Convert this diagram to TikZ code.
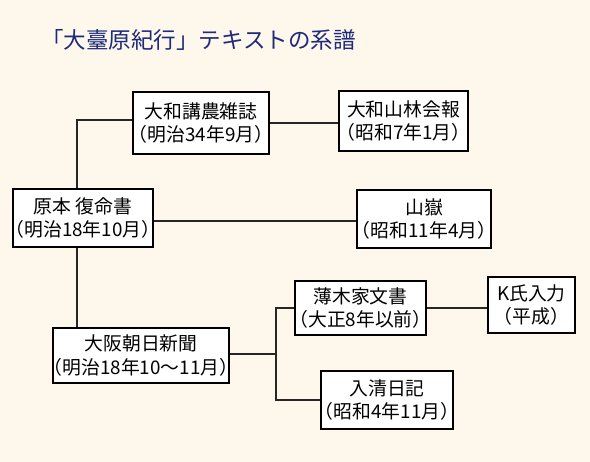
\documentclass[tikz,border=0pt]{standalone}
\usepackage{fontspec}
\setmainfont{Noto Sans CJK JP}
\usepackage{xcolor}
\usetikzlibrary{positioning}

\definecolor{paper}{RGB}{253,247,236}
\definecolor{titleblue}{RGB}{31,42,122}

\begin{document}
\begin{tikzpicture}[
    x=1pt, y=-1pt,
    box/.style={rectangle, draw=black, line width=1.6pt, fill=white, align=center, inner xsep=-14pt, inner ysep=0pt, font=\fontsize{18.8}{23.5}\selectfont},
    edge/.style={line width=1.4pt, draw=black!85}
]
    \fill[paper] (0,0) rectangle (590,462);
    \useasboundingbox (0,0) rectangle (590,462);

    \node[anchor=west, inner sep=0pt, text=titleblue, font=\fontsize{22.5}{26}\selectfont] (title) at (41,40) {「大臺原紀行」テキストの系譜};

    \node[box, minimum width=136pt, minimum height=62pt] (zasshi) at (201,123) {大和講農雑誌\\（明治34年9月）};
    \node[box, minimum width=129pt, minimum height=60pt] (sanrin) at (403.5,121) {大和山林会報\\（昭和7年1月）};
    \node[box, minimum width=140pt, minimum height=58pt] (genpon) at (83,218) {原本 復命書\\（明治18年10月）};
    \node[box, minimum width=134pt, minimum height=58pt] (sangaku) at (424,219) {山嶽\\（昭和11年4月）};
    \node[box, minimum width=176pt, minimum height=55pt] (asahi) at (141,355.5) {大阪朝日新聞\\（明治18年10～11月）};
    \node[box, minimum width=131pt, minimum height=54pt] (usuki) at (360.5,308) {薄木家文書\\（大正8年以前）};
    \node[box, minimum width=87pt, minimum height=56pt] (kshi) at (531.5,305) {K氏入力\\（平成）};
    \node[box, minimum width=132pt, minimum height=58pt] (nyushin) at (387,400) {入清日記\\（昭和4年11月）};

    \coordinate (fork) at (276,354);

    \draw[edge] ([xshift=-6pt]genpon.north) |- ([yshift=3pt]zasshi.west);
    \draw[edge] (zasshi.east) -- (zasshi.east -| sanrin.west);
    \draw[edge] ([yshift=-3pt]genpon.east) -- ([yshift=-3pt]genpon.east -| sangaku.west);
    \draw[edge] ([xshift=-6pt]genpon.south) -- ([xshift=-6pt]genpon.south |- asahi.north);
    \draw[edge] (asahi.east |- fork) -- (fork);
    \draw[edge] (fork) |- (usuki.west);
    \draw[edge] (fork) |- (nyushin.west);
    \draw[edge] (usuki.east) -- (usuki.east -| kshi.west);
\end{tikzpicture}
\end{document}
